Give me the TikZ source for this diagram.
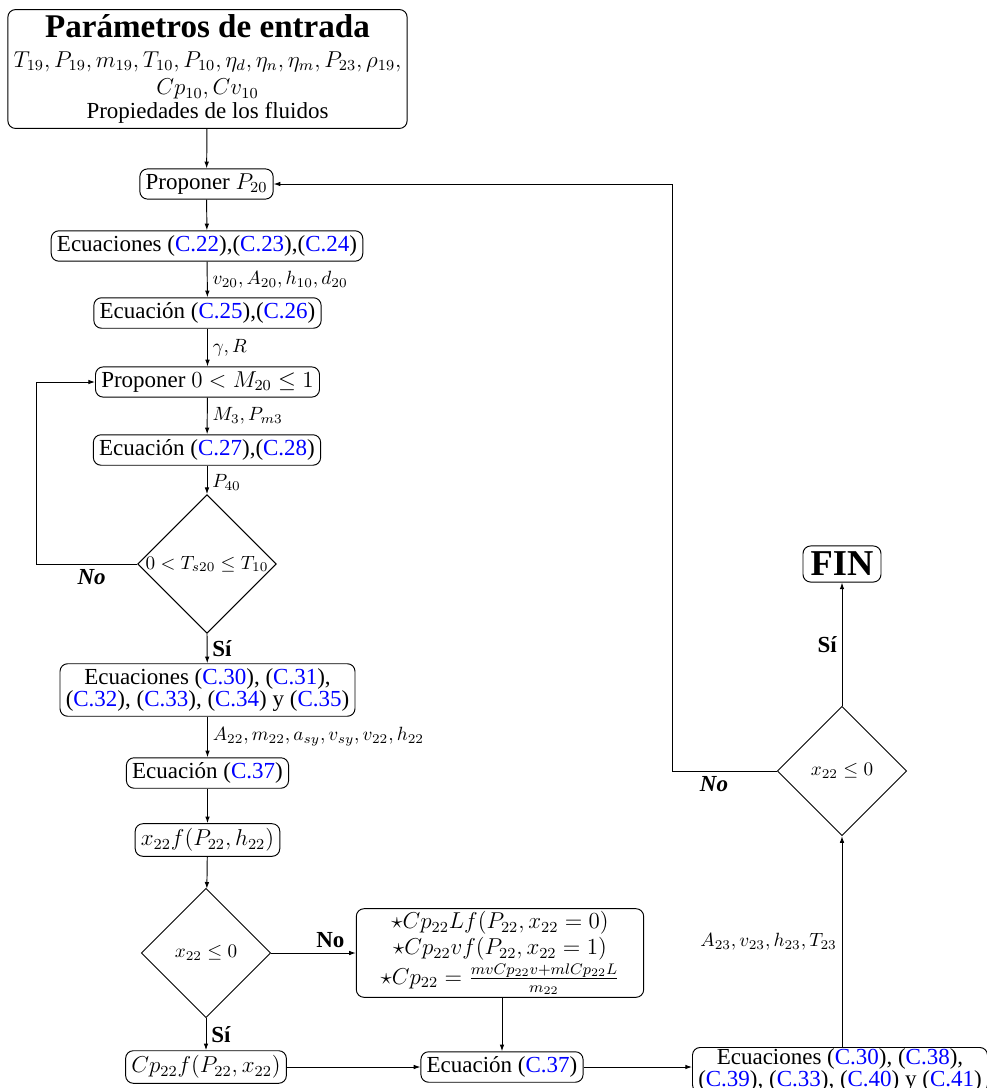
\documentclass[12pt,tikz,border=0pt]{standalone}
\usepackage[no-math]{fontspec}
\setmainfont{Liberation Serif}
\usepackage{amssymb}
\usetikzlibrary{shapes.geometric,arrows.meta}

% equation references shown in blue
\newcommand{\eqc}[1]{\textcolor{blue}{C.#1}}

\tikzset{
  box/.style={draw, rounded corners=4pt, align=center, inner xsep=3pt, inner ysep=2.5pt, line width=0.5pt},
  decision/.style={draw, diamond, aspect=1, minimum size=67.5pt, inner sep=0pt, font=\footnotesize, line width=0.5pt},
  arr/.style={-{Latex[length=3.5pt,width=2.4pt]}, line width=0.5pt},
  lblr/.style={font=\footnotesize, anchor=west, inner sep=2.5pt},
  lbll/.style={font=\footnotesize, anchor=east, inner sep=2.5pt},
  yes/.style={font=\bfseries, inner sep=2.5pt},
  noit/.style={font=\bfseries\itshape, inner sep=2.5pt},
}

\begin{document}
\begin{tikzpicture}[x=0.522pt, y=-0.522pt]
  \useasboundingbox (0,0) rectangle (987,1088);

  % main column
  \node[box, minimum width=204pt, minimum height=61.6pt] (inp) at (207.5,69)
    {{\Large\bfseries Parámetros de entrada}\\[1pt]
     $T_{19}, P_{19}, m_{19}, T_{10}, P_{10}, \eta_d, \eta_n, \eta_m, P_{23}, \rho_{19},$\\[0pt]
     $Cp_{10}, Cv_{10}$\\[-2pt]
     Propiedades de los fluidos};
  \node[box] (p20) at (206.5,184) {Proponer $P_{20}$};
  \node[box] (ec1) at (207,246) {Ecuaciones (\eqc{22}),(\eqc{23}),(\eqc{24})};
  \node[box] (ec2) at (207.5,313) {Ecuación (\eqc{25}),(\eqc{26})};
  \node[box] (m20) at (207.5,382) {Proponer $0 < M_{20} \le 1$};
  \node[box] (ec3) at (207,450) {Ecuación (\eqc{27}),(\eqc{28})};
  \node[decision] (d1) at (207,564) {$0 < T_{s20} \le T_{10}$};
  \node[box] (ec4) at (207.5,690)
    {Ecuaciones (\eqc{30}), (\eqc{31}),\\[-3pt] (\eqc{32}), (\eqc{33}), (\eqc{34}) y (\eqc{35})};
  \node[box] (ec5) at (207.5,773) {Ecuación (\eqc{37})};
  \node[box] (x22) at (207.5,840) {$x_{22}f(P_{22},h_{22})$};
  \node[decision] (d2) at (206,953) {$x_{22} \le 0$};
  \node[box] (cp) at (206,1067) {$Cp_{22}f(P_{22},x_{22})$};

  % two-phase branch
  \node[box, minimum width=150pt, inner ysep=1.5pt] (cpm) at (500,953)
    {$\star Cp_{22}Lf(P_{22},x_{22}=0)$\\[-1pt]
     $\star Cp_{22}vf(P_{22},x_{22}=1)$\\[1pt]
     $\star Cp_{22} = \frac{mvCp_{22}v+mlCp_{22}L}{m_{22}}$};
  \node[box] (ec6) at (502,1067) {Ecuación (\eqc{37})};
  \node[box, anchor=north, inner ysep=0.5pt] (ec7) at (840,1047)
    {Ecuaciones (\eqc{30}), (\eqc{38}),\\[-3pt] (\eqc{39}), (\eqc{33}), (\eqc{40}) y (\eqc{41})};

  % exit check
  \node[decision] (d3) at (842,771) {$x_{22} \le 0$};
  \node[box, inner xsep=4pt, inner ysep=3.2pt] (fin) at (842,564) {\fontsize{19}{22}\selectfont\bfseries FIN};

  \coordinate (lc) at (36,564);
  \coordinate (rc) at (672,771);

  % connectors
  \draw[arr] (inp) -- (p20);
  \draw[arr] (p20) -- (ec1);
  \draw[arr] (ec1) -- node[lblr] {$v_{20}, A_{20}, h_{10}, d_{20}$} (ec2);
  \draw[arr] (ec2) -- node[lblr] {$\gamma, R$} (m20);
  \draw[arr] (m20) -- node[lblr] {$M_3, P_{m3}$} (ec3);
  \draw[arr] (ec3) -- node[lblr, pos=0.6] {$P_{40}$} (d1);
  \draw[arr] (d1.west) -- node[noit, below, pos=0.45] {No} (lc) |- (m20.west);
  \draw[arr] (d1.south) -- node[yes, right] {Sí} (ec4);
  \draw[arr] (ec4) -- node[lblr] {$A_{22}, m_{22}, a_{sy}, v_{sy}, v_{22}, h_{22}$} (ec5);
  \draw[arr] (ec5) -- (x22);
  \draw[arr] (x22) -- (d2);
  \draw[arr] (d2.east) -- node[yes, above, pos=0.7] {No} (cpm.west |- d2.east);
  \draw[arr] (d2.south) -- node[yes, right] {Sí} (cp);
  \draw[arr] (cpm.south -| ec6.north) -- (ec6.north);
  \draw[arr] (cp.east) -- (ec6.west);
  \draw[arr] (ec6.east) -- (ec6.east -| ec7.west);
  \draw[arr] (ec7.north -| d3.south) -- node[lbll] {$A_{23}, v_{23}, h_{23}, T_{23}$} (d3.south);
  \draw[arr] (d3.north) -- node[yes, left] {Sí} (fin.south);
  \draw[arr] (d3.west) -- node[noit, below, pos=0.6] {No} (rc) |- (p20.east);
\end{tikzpicture}
\end{document}
